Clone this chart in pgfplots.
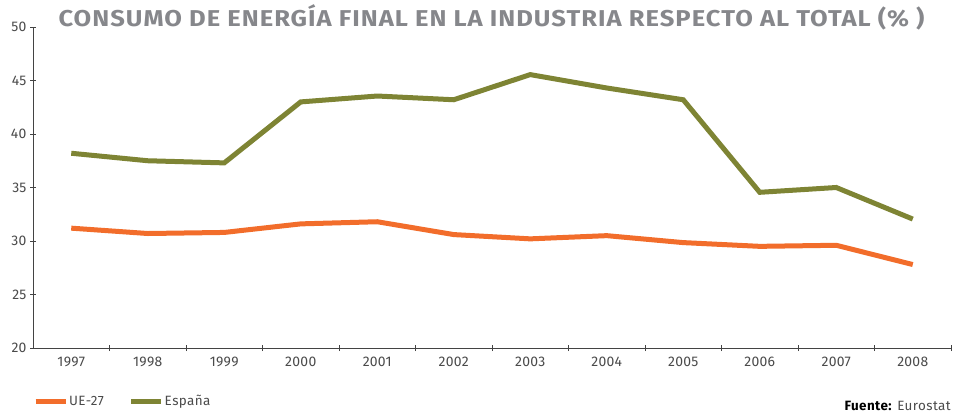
\documentclass[border=0pt]{standalone}
\usepackage{pgfplots}
\pgfplotsset{compat=1.18}
\usepackage{fontspec}
\setmainfont{Fira Sans}
\usepackage{xcolor}
\definecolor{cue}{HTML}{F26D2B}
\definecolor{cesp}{HTML}{7E8434}
\definecolor{ctitle}{HTML}{86878B}
\definecolor{ctick}{HTML}{4A4A4A}

\begin{document}
\begin{tikzpicture}
\useasboundingbox (0,0) rectangle (957bp,415bp);
\begin{axis}[
  at={(33bp,67bp)}, anchor=south west,
  width=918bp, height=321bp, scale only axis,
  xmin=-0.5, xmax=11.5, ymin=20, ymax=50,
  ytick={20,25,...,50},
  xtick={0,...,11},
  xticklabels={1997,1998,1999,2000,2001,2002,2003,2004,2005,2006,2007,2008},
  minor xtick={0.5,1.5,...,11.5},
  major x tick style={draw=none},
  tick align=outside,
  major tick length=6bp, minor tick length=6bp,
  axis x line=bottom, axis y line=left,
  axis line style={-, ctick!90!black, line width=0.9bp},
  tick style={ctick!90!black, line width=0.9bp},
  tick label style={font=\fontsize{14}{16}\selectfont\addfontfeature{LetterSpace=2}, text=ctick},
  /pgf/number format/assume math mode=true,
  xticklabel style={yshift=-3bp},
  yticklabel style={xshift=0bp},
  legend columns=2,
  legend style={draw=none, at={(0,0)}, anchor=north west, xshift=-3bp, yshift=-43bp,
    font=\fontsize{13.5}{15}\selectfont\addfontfeature{LetterSpace=3}, text=ctick,
    nodes={inner xsep=1bp},
    /tikz/every even column/.append style={column sep=24bp}},
  legend image code/.code={\draw[#1, line width=5bp] (0bp,0bp) -- (30bp,0bp);},
]
\addplot[cue, line width=5bp] coordinates {
  (0,31.2) (1,30.7) (2,30.8) (3,31.6) (4,31.8) (5,30.6)
  (6,30.2) (7,30.5) (8,29.85) (9,29.5) (10,29.6) (11,27.8)};
\addlegendentry{UE-27}
\addplot[cesp, line width=5bp] coordinates {
  (0,38.2) (1,37.5) (2,37.3) (3,43.0) (4,43.55) (5,43.2)
  (6,45.55) (7,44.3) (8,43.2) (9,34.55) (10,35.0) (11,32.05)};
\addlegendentry{España}
\end{axis}
\node[text=ctitle] at (491.5bp,398bp)
  {\scalebox{1.115}[1]{\bfseries\fontsize{23}{26}\selectfont\addfontfeature{LetterSpace=4}CONSUMO DE ENERGÍA FINAL EN LA INDUSTRIA RESPECTO AL TOTAL (\% )}};
\node[anchor=base east, font=\fontsize{13.5}{15}\selectfont\addfontfeature{LetterSpace=3}, inner sep=0pt] at (951bp,5bp)
  {\textbf{Fuente:} \textcolor{ctick}{Eurostat}};
\end{tikzpicture}
\end{document}
